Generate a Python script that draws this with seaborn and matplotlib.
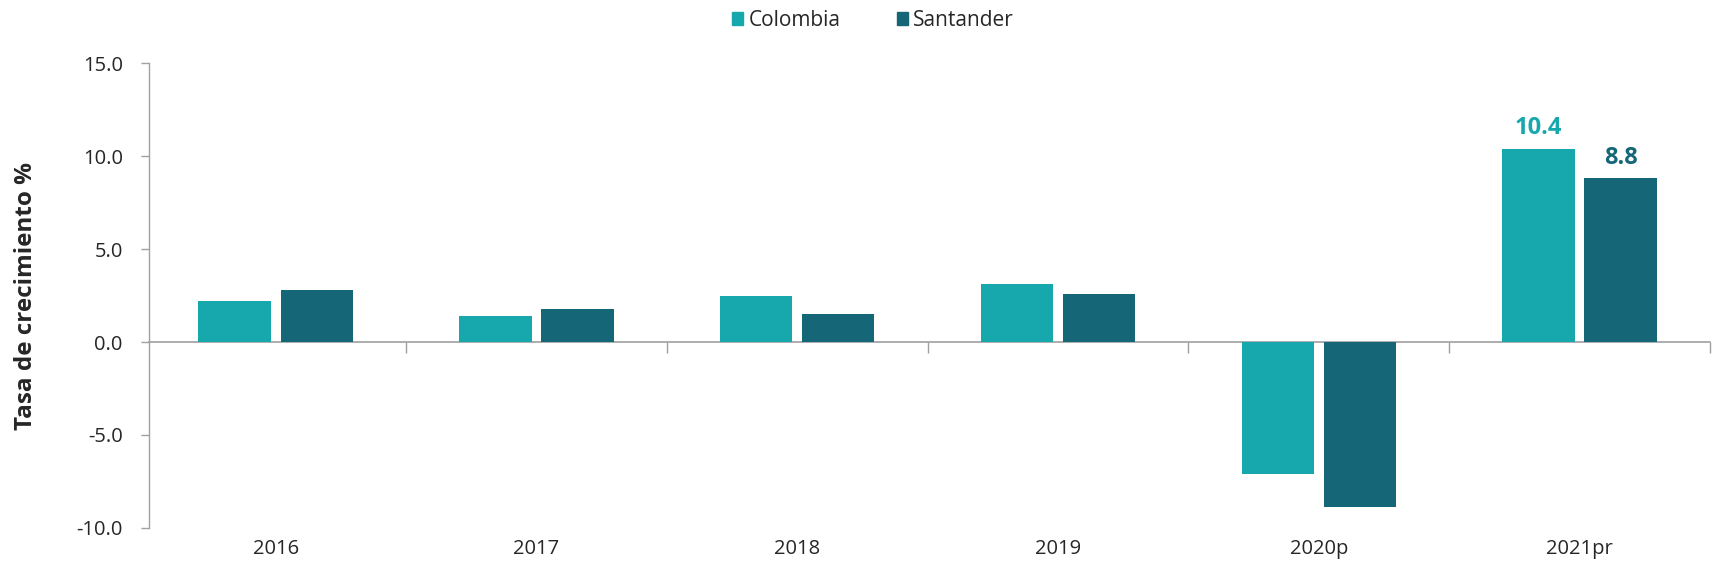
import matplotlib
matplotlib.use('Agg')
import matplotlib.pyplot as plt
import seaborn as sns
import pandas as pd
import numpy as np

# values
years = ['2016', '2017', '2018', '2019', '2020p', '2021pr']
colombia = [2.2, 1.4, 2.5, 3.1, -7.1, 10.4]
santander = [2.8, 1.8, 1.5, 2.6, -8.9, 8.8]
series = ['Colombia', 'Santander']
colors = ['#16A8AD', '#156778']
y_ticks = [-10.0, -5.0, 0.0, 5.0, 10.0, 15.0]

df = pd.DataFrame({
    'year': years * 2,
    'value': colombia + santander,
    'region': [series[0]] * len(years) + [series[1]] * len(years),
})

sns.set_style('white')
plt.rcParams['font.family'] = ['Open Sans', 'DejaVu Sans']

fig = plt.figure(figsize=(17.15, 5.75), dpi=100)
ax = fig.add_axes([0.087, 0.082, 0.910, 0.808])

sns.barplot(data=df, x='year', y='value', hue='region', palette=colors,
            saturation=1, width=0.63, gap=0.12, linewidth=0, ax=ax,
            legend=False)

ax.set_ylim(-10, 15)
ax.set_xlim(-0.485, len(years) - 0.5)
ax.set_yticks(y_ticks)
ax.set_yticklabels([f'{v:.1f}' for v in y_ticks])
ax.tick_params(axis='y', length=6, width=1, color='#A0A0A0', labelsize=14.5,
               pad=13, left=True)
ax.tick_params(axis='x', length=0, labelsize=14.5, pad=8)
ax.set_xlabel(None)
ax.set_ylabel('Tasa de crecimiento %', fontsize=17.5, fontweight='bold',
              labelpad=28)

for side in ['top', 'right', 'bottom']:
    ax.spines[side].set_visible(False)
ax.spines['left'].set_color('#A0A0A0')
ax.spines['left'].set_linewidth(1)

# zero line with category boundary ticks
zero_ax = ax.secondary_xaxis(0, transform=ax.transData)
zero_ax.set_xticks(np.arange(len(years) + 1) - 0.5)
zero_ax.set_xticklabels([])
zero_ax.tick_params(axis='x', length=8, width=1, color='#A0A0A0', direction='out')
zero_ax.spines['bottom'].set_color('#A0A0A0')
zero_ax.spines['bottom'].set_linewidth(1.2)

# labels only on the last year
for cont, col, vals in zip(ax.containers, colors, [colombia, santander]):
    labels = [''] * (len(vals) - 1) + [f'{vals[-1]:.1f}']
    ax.bar_label(cont, labels=labels, padding=6, color=col, fontsize=17,
                 fontweight='bold')

handles = [plt.Rectangle((0, 0), 1, 1, color=c) for c in colors]
fig.legend(handles, series, loc='upper center', bbox_to_anchor=(0.509, 1.015),
           ncol=2, frameon=False, fontsize=15, handlelength=0.55,
           handleheight=0.55, handletextpad=0.25, columnspacing=2.7)

fig.savefig('out.png', dpi=100)
